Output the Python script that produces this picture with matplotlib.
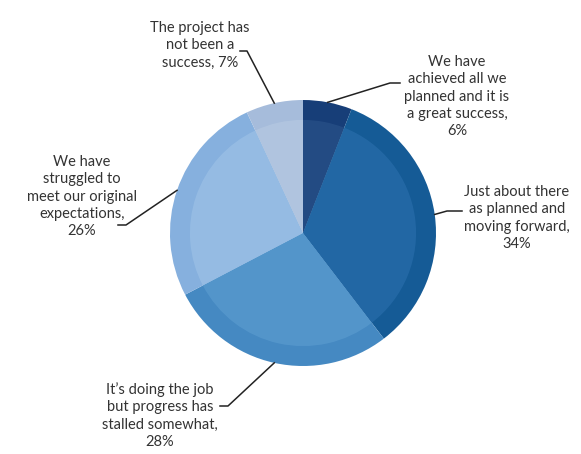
import numpy as np
import matplotlib.pyplot as plt

plt.rcParams['font.family'] = ['Lato', 'DejaVu Sans']

labels = ["We have\nachieved all we\nplanned and it is\na great success,\n6%",
          "Just about there\nas planned and\nmoving forward,\n34%",
          "It\u2019s doing the job\nbut progress has\nstalled somewhat,\n28%",
          "We have\nstruggled to\nmeet our original\nexpectations,\n26%",
          "The project has\nnot been a\nsuccess, 7%"]
shares = [6, 34, 28, 26, 7]
outer_colors = ["#173e78", "#155b96", "#4589c2", "#86b0de", "#a6bcdb"]
inner_colors = ["#254d85", "#2469a6", "#5597cc", "#97bde4", "#b2c6e0"]

# layout in pixel coordinates (y up)
W, H = 581, 454
cx, cy, R = 303, 221, 133
# elbow point, end of leader, text centre (x, y of first line), per slice
elbows = [(390, 371), (447, 243), (228, 48), (126, 229), (247, 403)]
ends = [(400, 371), (462, 243), (220, 48), (118, 229), (240, 403)]
text_pos = [(457, 399), (517, 269), (160, 72), (82, 299), (200, 433)]

fig = plt.figure(figsize=(W / 100, H / 100), dpi=100)
ax = fig.add_axes([0, 0, 1, 1])

ax.pie(shares, colors=outer_colors, startangle=90, counterclock=False,
       center=(cx, cy), radius=R, frame=True,
       wedgeprops=dict(linewidth=0))
ax.pie(shares, colors=inner_colors, startangle=90, counterclock=False,
       center=(cx, cy), radius=R * 0.85, frame=True,
       wedgeprops=dict(linewidth=0, alpha=0.9))
ax.set_xlim(0, W)
ax.set_ylim(0, H)
ax.set_aspect('equal')
ax.axis('off')

frac = np.array(shares) / sum(shares)
start = 90 - 360 * np.concatenate([[0], np.cumsum(frac)[:-1]])
mid = start - 180 * frac
for i in range(len(shares)):
    a = np.deg2rad(mid[i])
    px, py = cx + R * np.cos(a), cy + R * np.sin(a)
    ex, ey = elbows[i]
    tx, ty = ends[i]
    ax.plot([px, ex, tx], [py, ey, ty], color='#222222', lw=1.1)
    ax.text(text_pos[i][0], text_pos[i][1], labels[i], ha='center', va='top',
            fontsize=10.5, color='#333333', linespacing=1.3)

plt.savefig('out.png', dpi=100)
